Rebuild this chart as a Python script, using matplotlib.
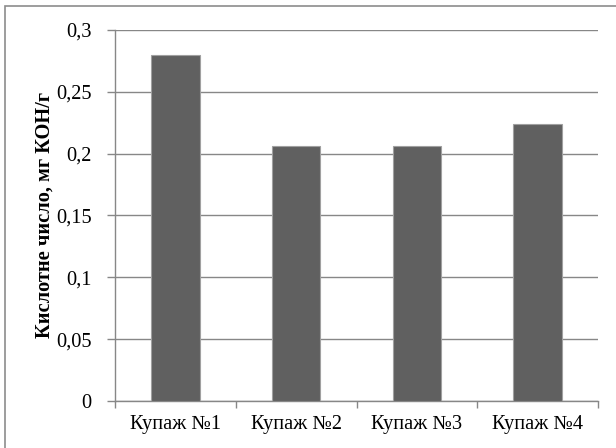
import matplotlib
matplotlib.use("Agg")
import matplotlib.pyplot as plt
from matplotlib.patches import Rectangle

categories = ["Купаж №1", "Купаж №2", "Купаж №3", "Купаж №4"]
values = [0.280, 0.206, 0.206, 0.224]
y_ticks = [0, 0.05, 0.1, 0.15, 0.2, 0.25, 0.3]
y_tick_labels = ["0", "0,05", "0,1", "0,15", "0,2", "0,25", "0,3"]
y_label = "Кислотне число, мг КОН/г"

plt.rcParams["font.family"] = ["Liberation Serif", "DejaVu Serif"]

W, H = 616, 448
FS = 14.7
fig = plt.figure(figsize=(W / 100, H / 100), dpi=100)

# outer chart frame
fig.patches.append(Rectangle((5 / W, -0.1), 1.2, 1 - 6 / H + 0.1,
                             transform=fig.transFigure, fill=False,
                             edgecolor="#8c8c8c", linewidth=1.2))

ax = fig.add_axes([115 / W, (H - 401) / H, (598 - 115) / W, (401 - 30) / H])

x = list(range(len(categories)))
ax.bar(x, values, width=0.4, color="#606060", edgecolor="#a0a0a0",
       linewidth=0.8, zorder=3)

ax.set_xlim(-0.5, len(categories) - 0.5)
ax.set_ylim(0, 0.3)
ax.set_yticks(y_ticks)
ax.set_yticklabels(y_tick_labels, fontsize=FS)
ax.yaxis.grid(True, color="#878787", linewidth=1.0, zorder=0)

ax.set_xticks(x)
ax.set_xticklabels(categories, fontsize=FS)
ax.set_xticks([i - 0.5 for i in range(len(categories) + 1)], minor=True)
ax.tick_params(axis="x", which="major", length=0, pad=10)
ax.tick_params(axis="x", which="minor", length=5, color="#878787", width=1.0)
ax.tick_params(axis="y", length=6, color="#878787", width=1.0, pad=11)

for side in ["top", "right"]:
    ax.spines[side].set_visible(False)
for side in ["left", "bottom"]:
    ax.spines[side].set_color("#878787")
    ax.spines[side].set_linewidth(1.0)

ax.set_ylabel(y_label, fontsize=FS, fontweight="bold", labelpad=0.5)

fig.savefig("out.png", dpi=100)
